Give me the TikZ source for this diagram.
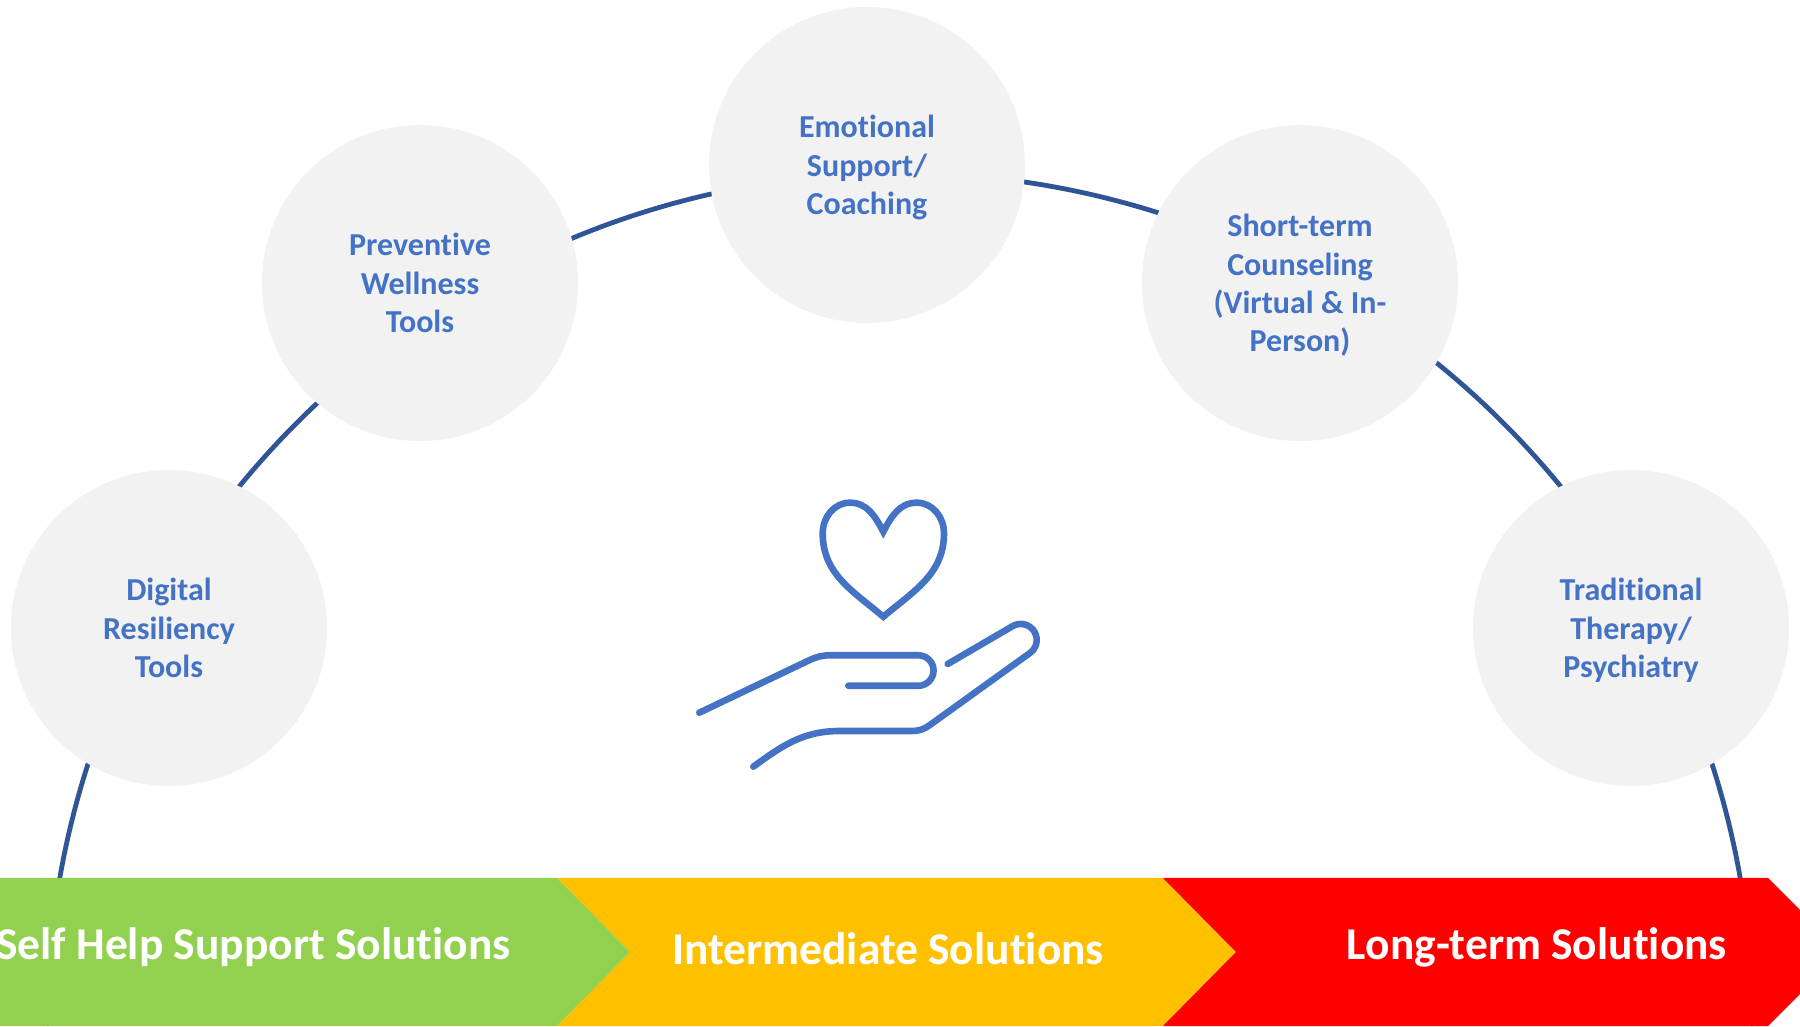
\documentclass[tikz,border=0pt]{standalone}
\usepackage{fontspec}
\setmainfont{Carlito}[Ligatures=NoCommon]
\definecolor{arcblue}{RGB}{47,85,151}
\definecolor{txtblue}{RGB}{68,114,196}
\definecolor{bubfill}{RGB}{242,242,242}
\definecolor{bgreen}{RGB}{146,208,80}
\definecolor{byellow}{RGB}{255,192,0}
\definecolor{bred}{RGB}{255,0,0}
\tikzset{
  bub/.style={circle, fill=bubfill, minimum size=316pt, inner sep=0pt, align=center,
    text depth=0pt, text=txtblue, font=\fontsize{32}{38.4}\selectfont\bfseries},
  arcline/.style={draw=arcblue, line width=4.8pt},
  icon/.style={draw=txtblue, line width=6.6pt, line cap=round, line join=round},
  bandtxt/.style={text=white, font=\fontsize{45.5}{54}\selectfont\bfseries, inner sep=0pt},
}
\begin{document}
\begin{tikzpicture}[x=1pt,y=1pt]
\useasboundingbox (0,0) rectangle (1800,1026);
\clip (0,0) rectangle (1800,1026);
\fill[white] (0,0) rectangle (1800,1026);
% big arc
\draw[arcline] (1753,0) arc[start angle=0, end angle=180, radius=853];
% circles
\node[bub] (dig) at (169,398) {Digital\\Resiliency\\Tools};
\node[bub] (prev) at (420,743) {Preventive\\Wellness\\Tools};
\node[bub] (emo) at (867,861) {Emotional\\Support/\\Coaching};
\node[bub] (short) at (1300,743) {Short-term\\Counseling\\(Virtual \& In-\\Person)};
\node[bub] (trad) at (1631,398) {Traditional\\Therapy/\\Psychiatry};
% bands
\fill[byellow] (557,148) -- (1163,148) -- (1236,74) -- (1163,0) -- (557,0) -- (630,74) -- cycle;
\fill[bred] (1163,148) -- (1768,148) -- (1842,74) -- (1768,0) -- (1163,0) -- (1236,74) -- cycle;
\fill[bgreen] (-60,0) -- (-60,148) -- (557,148) -- (630,74) -- (557,0) -- cycle;
\node[bandtxt, anchor=base east] (self) at (511,66) {Self Help Support Solutions};
\node[bandtxt, anchor=base] (inter) at (888,61) {Intermediate Solutions};
\node[bandtxt, anchor=base] (long) at (1537,66) {Long-term Solutions};
% heart
\draw[icon, line join=miter] (883.3,494.3) to[out=118,in=0] (850,523.3)
  to[out=180,in=90] (822.7,492.7) to[out=-90,in=140] (883.3,409.3)
  to[out=40,in=-90] (944,492.7) to[out=90,in=0] (916.7,523.3)
  to[out=180,in=62] cycle;
% hand: fingers
\draw[icon] (699.3,313.3) -- (808.7,365.5) to[out=25.5,in=180] (831.5,370.7)
  -- (918.3,370.7) arc[start angle=90, end angle=-90, radius=15.25] -- (848.3,340.2);
% hand: thumb and palm
\draw[icon] (947.7,362) -- (1012.7,399.9) arc[start angle=120, end angle=-54.3, radius=16]
  -- (929.6,300.8) to[out=215.7,in=0] (911.5,295) -- (840,295)
  to[out=180,in=36] (753.3,259.3);
\end{tikzpicture}
\end{document}
